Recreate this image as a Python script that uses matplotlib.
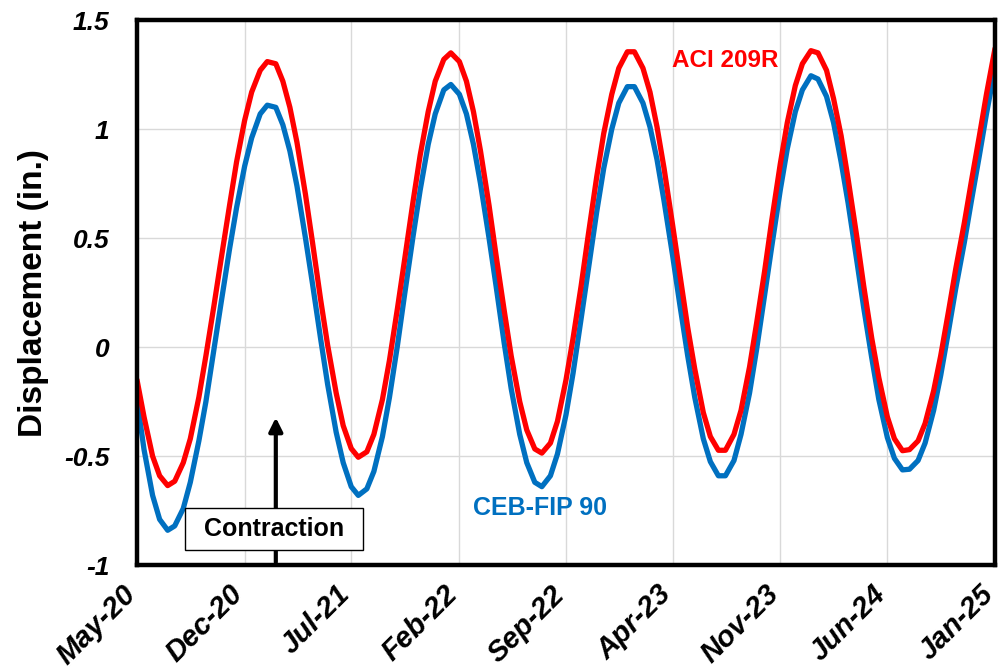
import matplotlib

matplotlib.use("Agg")

import matplotlib.dates as mdates
import matplotlib.pyplot as plt
import pandas as pd
from matplotlib.patches import Rectangle

plt.rcParams["font.family"] = ["Liberation Sans", "DejaVu Sans"]

# semi-monthly sample dates (1st and 15th), May-2020 .. Jan-2025
DATES = pd.date_range("2020-05-01", "2025-01-01", freq="SMS")

ACI_209R = [
    -0.15, -0.32, -0.50, -0.59, -0.635, -0.615, -0.53, -0.42, -0.23, -0.04,
    0.19, 0.40, 0.65, 0.85, 1.04, 1.17,
    1.27, 1.31, 1.30, 1.22, 1.10, 0.94, 0.70, 0.48, 0.22, 0.01, -0.21, -0.36,
    -0.465, -0.505, -0.48, -0.40, -0.24, -0.06, 0.18, 0.40, 0.67, 0.88, 1.08, 1.22,
    1.32, 1.35, 1.31, 1.22, 1.08, 0.90, 0.65, 0.42, 0.17, -0.04, -0.25, -0.38,
    -0.467, -0.486, -0.44, -0.34, -0.15, 0.04, 0.28, 0.51, 0.78, 0.98, 1.16, 1.28,
    1.355, 1.355, 1.28, 1.17, 1.01, 0.82, 0.56, 0.34, 0.09, -0.10, -0.30, -0.41,
    -0.473, -0.473, -0.40, -0.29, -0.09, 0.11, 0.35, 0.58, 0.84, 1.03, 1.20, 1.30,
    1.36, 1.35, 1.27, 1.14, 0.97, 0.77, 0.51, 0.28, 0.04, -0.14, -0.32, -0.42,
    -0.475, -0.47, -0.43, -0.35, -0.20, -0.04, 0.17, 0.36, 0.57, 0.76, 0.97, 1.16,
    1.37,
]

CEB_FIP_90 = [
    -0.24, -0.47, -0.68, -0.79, -0.84, -0.82, -0.74, -0.62, -0.43, -0.25,
    -0.01, 0.20, 0.45, 0.64, 0.83, 0.96,
    1.07, 1.11, 1.10, 1.02, 0.90, 0.74, 0.50, 0.29, 0.04, -0.17, -0.39, -0.53,
    -0.64, -0.68, -0.65, -0.57, -0.41, -0.23, 0.01, 0.24, 0.51, 0.72, 0.93, 1.07,
    1.18, 1.205, 1.16, 1.07, 0.93, 0.75, 0.50, 0.28, 0.02, -0.19, -0.40, -0.53,
    -0.62, -0.64, -0.59, -0.49, -0.31, -0.12, 0.13, 0.35, 0.62, 0.82, 1.00, 1.12,
    1.195, 1.195, 1.12, 1.01, 0.86, 0.67, 0.42, 0.20, -0.04, -0.23, -0.42, -0.525,
    -0.59, -0.59, -0.52, -0.40, -0.21, -0.01, 0.24, 0.46, 0.72, 0.91, 1.08, 1.18,
    1.245, 1.23, 1.15, 1.03, 0.85, 0.66, 0.40, 0.18, -0.05, -0.24, -0.415, -0.51,
    -0.563, -0.56, -0.52, -0.44, -0.29, -0.13, 0.08, 0.27, 0.48, 0.67, 0.88, 1.07,
    1.28,
]

X_TICKS = pd.date_range("2020-05-01", periods=9, freq="7MS")
Y_TICKS = [-1, -0.5, 0, 0.5, 1, 1.5]

RED = "#FF0000"
BLUE = "#0070C0"

fig = plt.figure(figsize=(10, 6.72), dpi=100)
ax = fig.add_axes([0.137, 0.159, 0.858, 0.811])

line_kw = dict(linewidth=3.8, solid_capstyle="round", solid_joinstyle="round")
ax.plot(DATES, CEB_FIP_90, color=BLUE, **line_kw)
ax.plot(DATES, ACI_209R, color=RED, **line_kw)

ax.set_xlim(pd.Timestamp("2020-05-01"), pd.Timestamp("2025-01-01"))
ax.set_ylim(-1, 1.5)
ax.set_xticks(X_TICKS)
ax.xaxis.set_major_formatter(mdates.DateFormatter("%b-%y"))
ax.set_yticks(Y_TICKS)
ax.set_yticklabels([f"{v:g}" for v in Y_TICKS])

ax.grid(True, color="#d9d9d9", linewidth=1.0)
ax.set_axisbelow(True)
for spine in ax.spines.values():
    spine.set_linewidth(3.2)
    spine.set_color("black")

ax.tick_params(axis="both", length=0)
ax.tick_params(axis="y", pad=20)
ax.tick_params(axis="x", pad=22)
for lbl in ax.get_yticklabels():
    lbl.set_fontsize(19)
    lbl.set_fontweight("bold")
    lbl.set_fontstyle("italic")
for lbl in ax.get_xticklabels():
    lbl.set_fontsize(21)
    lbl.set_fontweight("bold")
    lbl.set_fontstyle("italic")
    lbl.set_rotation(45)
    lbl.set_ha("right")
    lbl.set_va("baseline")
    lbl.set_rotation_mode("anchor")

ax.set_ylabel("Displacement (in.)", fontsize=24, fontweight="bold")
ax.yaxis.set_label_coords(-0.103, 0.5)

ax.text(pd.Timestamp("2023-07-15"), 1.317, "ACI 209R", color=RED,
        fontsize=17.5, fontweight="bold", ha="center", va="center")
ax.text(pd.Timestamp("2022-07-11"), -0.74, "CEB-FIP 90", color=BLUE,
        fontsize=18, fontweight="bold", ha="center", va="center")

ax.annotate("", xy=(pd.Timestamp("2021-02-01"), -0.31),
            xytext=(pd.Timestamp("2021-02-01"), -1.0),
            arrowprops=dict(arrowstyle="-|>,head_length=0.8,head_width=0.4",
                            color="black", linewidth=3.0),
            annotation_clip=False)
ax.add_patch(Rectangle((0.056, 0.0275), 0.207, 0.077, transform=ax.transAxes,
                       facecolor="white", edgecolor="black", linewidth=1.0,
                       zorder=5))
ax.text(0.16, 0.066, "Contraction", transform=ax.transAxes, fontsize=18,
        fontweight="bold", ha="center", va="center", zorder=6)

fig.savefig("out.png", dpi=100)
